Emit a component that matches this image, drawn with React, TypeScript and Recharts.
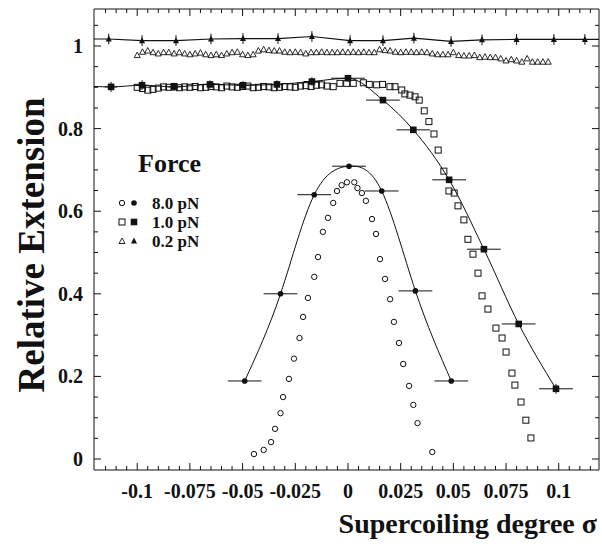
import { ComposedChart, XAxis, YAxis, Scatter, Line, ErrorBar } from "recharts";

const FONT = '"Liberation Serif", "Times New Roman", serif';
const INK = "#111";

const X_DOMAIN: [number, number] = [-0.1205, 0.1191];
const Y_DOMAIN: [number, number] = [-0.0266, 1.0896];

// tick values (minor every 0.005 / 0.05, labelled ones are the majors)
const X_MAJOR = [-0.1, -0.075, -0.05, -0.025, 0, 0.025, 0.05, 0.075, 0.1];
const Y_MAJOR = [0, 0.2, 0.4, 0.6, 0.8, 1];
const xTicks: number[] = [];
for (let i = -23; i <= 23; i++) xTicks.push(i / 200);
const yTicks: number[] = [];
for (let j = 0; j <= 21; j++) yTicks.push(j / 20);

// 8.0 pN
const circOpen: [number, number][] = [
  [-0.0446, 0.012], [-0.04, 0.022], [-0.0365, 0.041], [-0.0346, 0.073], [-0.032, 0.111],
  [-0.0308, 0.15], [-0.028, 0.194], [-0.0256, 0.243], [-0.023, 0.293], [-0.0213, 0.344],
  [-0.019, 0.39], [-0.016, 0.441], [-0.0142, 0.489], [-0.0119, 0.55], [-0.0095, 0.584],
  [-0.007, 0.62], [-0.0052, 0.649], [-0.003, 0.663], [-0.0005, 0.67], [0.003, 0.67],
  [0.0045, 0.656], [0.0066, 0.644], [0.0085, 0.625], [0.0114, 0.581], [0.0133, 0.545],
  [0.0152, 0.484], [0.0176, 0.436], [0.02, 0.387], [0.0218, 0.332], [0.0242, 0.281],
  [0.0262, 0.23], [0.029, 0.177], [0.031, 0.131], [0.033, 0.087], [0.04, 0.017],
];
const circFilled: [number, number][] = [
  [-0.049, 0.189], [-0.032, 0.4], [-0.016, 0.64], [0.0005, 0.709], [0.016, 0.649], [0.032, 0.407], [0.049, 0.189],
];

// 1.0 pN
const sqOpen: [number, number][] = [
  [-0.1, 0.9], [-0.0975, 0.897], [-0.095, 0.893], [-0.0925, 0.895], [-0.09, 0.898], [-0.0875, 0.901],
  [-0.085, 0.9], [-0.0825, 0.902], [-0.08, 0.899], [-0.0775, 0.901], [-0.075, 0.9], [-0.0725, 0.902],
  [-0.07, 0.899], [-0.0675, 0.9], [-0.065, 0.902], [-0.0625, 0.901], [-0.06, 0.899], [-0.0575, 0.903],
  [-0.055, 0.901], [-0.0525, 0.9], [-0.05, 0.902], [-0.0475, 0.903], [-0.045, 0.899], [-0.0425, 0.9],
  [-0.04, 0.902], [-0.0375, 0.901], [-0.035, 0.899], [-0.0325, 0.9], [-0.03, 0.902], [-0.0275, 0.901],
  [-0.025, 0.9], [-0.0225, 0.903], [-0.02, 0.904], [-0.0175, 0.902], [-0.015, 0.905], [-0.0125, 0.906],
  [-0.01, 0.903], [-0.007, 0.9015], [-0.0038, 0.9096], [-0.0006, 0.9096], [0.0025, 0.9096], [0.0073, 0.911],
  [0.0101, 0.907], [0.0136, 0.906], [0.0164, 0.907], [0.0199, 0.9015], [0.0223, 0.9015], [0.0255, 0.8935],
  [0.027, 0.884], [0.0294, 0.881], [0.0318, 0.877], [0.0338, 0.869], [0.0362, 0.843], [0.0384, 0.817],
  [0.0408, 0.787], [0.0428, 0.748], [0.0455, 0.697], [0.0479, 0.649], [0.0504, 0.644], [0.0522, 0.613],
  [0.055, 0.579], [0.0569, 0.532], [0.0593, 0.496], [0.0617, 0.45], [0.0636, 0.395], [0.0664, 0.363],
  [0.0702, 0.317], [0.0731, 0.293], [0.075, 0.259], [0.0778, 0.208], [0.0792, 0.179], [0.0821, 0.138],
  [0.0844, 0.094], [0.0868, 0.051],
];
// x, y, x-error, y-error
const sqFilled: [number, number, number, number][] = [
  [-0.1124, 0.901, 0.003, 0.012], [-0.0977, 0.905, 0.003, 0.012], [-0.0825, 0.901, 0.003, 0.01],
  [-0.0655, 0.907, 0.003, 0.01], [-0.0498, 0.905, 0.003, 0.01], [-0.0337, 0.907, 0.003, 0.01],
  [-0.0171, 0.914, 0.004, 0.01], [0, 0.922, 0.008, 0.008], [0.0166, 0.869, 0.008, 0.006],
  [0.031, 0.797, 0.008, 0.006], [0.048, 0.676, 0.008, 0.006], [0.0645, 0.508, 0.008, 0.006],
  [0.081, 0.327, 0.008, 0.006], [0.0987, 0.17, 0.008, 0.012],
];
const sqCurveStart: [number, number][] = [[-0.1205, 0.902]];

// 0.2 pN
const triOpen: [number, number][] = [
  [-0.1, 0.978], [-0.0975, 0.986], [-0.095, 0.989], [-0.0925, 0.985], [-0.09, 0.982], [-0.0875, 0.985],
  [-0.085, 0.985], [-0.0825, 0.982], [-0.08, 0.985], [-0.0775, 0.982], [-0.075, 0.98], [-0.0725, 0.982],
  [-0.07, 0.984], [-0.0675, 0.98], [-0.065, 0.978], [-0.0625, 0.98], [-0.06, 0.978], [-0.0575, 0.982],
  [-0.055, 0.985], [-0.0525, 0.986], [-0.05, 0.98], [-0.0475, 0.978], [-0.045, 0.98], [-0.0425, 0.989],
  [-0.04, 0.992], [-0.0375, 0.99], [-0.035, 0.989], [-0.0325, 0.989], [-0.03, 0.986], [-0.0275, 0.985],
  [-0.025, 0.986], [-0.0225, 0.985], [-0.02, 0.982], [-0.0175, 0.985], [-0.015, 0.985], [-0.0125, 0.986],
  [-0.01, 0.985], [-0.0075, 0.985], [-0.005, 0.985], [-0.0025, 0.986], [0, 0.985], [0.0025, 0.986],
  [0.005, 0.985], [0.0075, 0.986], [0.01, 0.985], [0.0125, 0.985], [0.015, 0.992], [0.0175, 0.99],
  [0.02, 0.989], [0.0225, 0.986], [0.025, 0.985], [0.0275, 0.986], [0.03, 0.986], [0.0325, 0.985],
  [0.035, 0.986], [0.0375, 0.985], [0.04, 0.982], [0.0425, 0.98], [0.045, 0.98], [0.0475, 0.98],
  [0.05, 0.985], [0.0525, 0.978], [0.055, 0.977], [0.0575, 0.977], [0.06, 0.978], [0.0625, 0.973],
  [0.065, 0.974], [0.0675, 0.973], [0.07, 0.973], [0.0725, 0.97], [0.075, 0.965], [0.0775, 0.968],
  [0.08, 0.965], [0.0825, 0.962], [0.085, 0.97], [0.0875, 0.962], [0.09, 0.962], [0.0925, 0.962],
  [0.095, 0.962],
];
const triFilled: [number, number][] = [
  [-0.1135, 1.017], [-0.0977, 1.013], [-0.0816, 1.013], [-0.065, 1.017], [-0.0498, 1.018],
  [-0.0332, 1.018], [-0.0171, 1.023], [0.001, 1.013], [0.0166, 1.013], [0.0313, 1.019],
  [0.0489, 1.011], [0.0636, 1.015], [0.08, 1.016], [0.0977, 1.016], [0.1124, 1.016],
];
const triLineEnds: [number, number][] = [[-0.1205, 1.017], [0.1191, 1.016]];

const pts = (a: [number, number][]) => a.map(([x, y]) => ({ x, y }));
const circFilledData = circFilled.map(([x, y]) => ({ x, y, ex: 0.008 }));
const sqFilledData = sqFilled.map(([x, y, ex, ey]) => ({ x, y, ex, ey }));
const triFilledData = triFilled.map(([x, y]) => ({ x, y, ey: 0.013 }));
const sqCurve = pts([...sqCurveStart, ...sqFilled.map(([x, y]) => [x, y] as [number, number])]);
const triCurve = pts([triLineEnds[0], ...triFilled, triLineEnds[1]]);

const isMajorX = (v: number) => X_MAJOR.some((m) => Math.abs(m - v) < 1e-9);
const isMajorY = (v: number) => Y_MAJOR.some((m) => Math.abs(m - v) < 1e-9);

const BottomTick = (p: any) => {
  const major = isMajorX(p.payload.value);
  return (
    <g>
      <line x1={p.x} x2={p.x} y1={p.y} y2={p.y - (major ? 7 : 4)} stroke={INK} />
      {major && (
        <text x={p.x} y={p.y + 28} textAnchor="middle" fontFamily={FONT} fontWeight="bold" fontSize={20} fill={INK}>
          {String(p.payload.value)}
        </text>
      )}
    </g>
  );
};
const TopTick = (p: any) => {
  const major = isMajorX(p.payload.value);
  return <line x1={p.x} x2={p.x} y1={p.y} y2={p.y + (major ? 7 : 4)} stroke={INK} />;
};
const LeftTick = (p: any) => {
  const major = isMajorY(p.payload.value);
  return (
    <g>
      <line x1={p.x} x2={p.x + (major ? 7 : 4)} y1={p.y} y2={p.y} stroke={INK} />
      {major && (
        <text x={p.x - 11} y={p.y + 7} textAnchor="end" fontFamily={FONT} fontWeight="bold" fontSize={20} fill={INK}>
          {String(p.payload.value)}
        </text>
      )}
    </g>
  );
};
const RightTick = (p: any) => {
  const major = isMajorY(p.payload.value);
  return <line x1={p.x} x2={p.x - (major ? 7 : 4)} y1={p.y} y2={p.y} stroke={INK} />;
};

const OpenCircle = (p: any) => <circle cx={p.cx} cy={p.cy} r={2.7} fill="none" stroke={INK} strokeWidth={1} />;
const FilledCircle = (p: any) => <circle cx={p.cx} cy={p.cy} r={2.8} fill={INK} />;
const OpenSquare = (p: any) => <rect x={p.cx - 3} y={p.cy - 3} width={6} height={6} fill="none" stroke={INK} strokeWidth={1} />;
const FilledSquare = (p: any) => <rect x={p.cx - 3.3} y={p.cy - 3.3} width={6.6} height={6.6} fill={INK} />;
const OpenTri = (p: any) => (
  <path d={`M${p.cx},${p.cy - 3} L${p.cx + 3},${p.cy + 2.5} L${p.cx - 3},${p.cy + 2.5} Z`} fill="none" stroke={INK} strokeWidth={0.9} />
);
const FilledTri = (p: any) => (
  <path d={`M${p.cx},${p.cy - 3.5} L${p.cx + 3},${p.cy + 2.5} L${p.cx - 3},${p.cy + 2.5} Z`} fill={INK} />
);

const legendRows = [
  { label: "8.0 pN", open: "circle", y: 203 },
  { label: "1.0 pN", open: "square", y: 222 },
  { label: "0.2 pN", open: "tri", y: 241 },
];

const LegendSymbol = ({ kind, cx, cy, filled }: { kind: string; cx: number; cy: number; filled: boolean }) => {
  const p = { cx, cy };
  if (kind === "circle") return filled ? <FilledCircle {...p} /> : <OpenCircle {...p} />;
  if (kind === "square") return filled ? <FilledSquare {...p} /> : <OpenSquare {...p} />;
  return filled ? <FilledTri {...p} /> : <OpenTri {...p} />;
};

export default function App() {
  return (
    <div style={{ position: "absolute", left: 0, top: 0, width: 602, height: 549, background: "#fff" }}>
      <ComposedChart width={602} height={549} margin={{ top: 0, right: 0, bottom: 0, left: 0 }}>
        <XAxis xAxisId="b" type="number" dataKey="x" domain={X_DOMAIN} allowDataOverflow ticks={xTicks}
          interval={0} tickSize={0} tickMargin={0} height={79} axisLine={{ stroke: INK }} tick={BottomTick} />
        <XAxis xAxisId="t" orientation="top" type="number" dataKey="x" domain={X_DOMAIN} allowDataOverflow ticks={xTicks}
          interval={0} tickSize={0} tickMargin={0} height={9} axisLine={{ stroke: INK }} tick={TopTick} />
        <YAxis yAxisId="l" type="number" domain={Y_DOMAIN} allowDataOverflow ticks={yTicks} interval={0}
          tickSize={0} tickMargin={0} width={94} axisLine={{ stroke: INK }} tick={LeftTick} />
        <YAxis yAxisId="r" orientation="right" type="number" domain={Y_DOMAIN} allowDataOverflow ticks={yTicks} interval={0}
          tickSize={0} tickMargin={0} width={3} axisLine={{ stroke: INK }} tick={RightTick} />

        <Line xAxisId="b" yAxisId="l" data={triCurve} dataKey="y" type="linear" stroke={INK} strokeWidth={1.2} dot={false} isAnimationActive={false} />
        <Line xAxisId="b" yAxisId="l" data={sqCurve} dataKey="y" type="monotone" stroke={INK} strokeWidth={1} dot={false} isAnimationActive={false} />
        <Line xAxisId="b" yAxisId="l" data={circFilledData} dataKey="y" type="natural" stroke={INK} strokeWidth={1} dot={false} isAnimationActive={false} />

        <Scatter xAxisId="b" yAxisId="l" data={pts(triOpen)} dataKey="y" shape={OpenTri} isAnimationActive={false} />
        <Scatter xAxisId="b" yAxisId="l" data={pts(sqOpen)} dataKey="y" shape={OpenSquare} isAnimationActive={false} />
        <Scatter xAxisId="b" yAxisId="l" data={pts(circOpen)} dataKey="y" shape={OpenCircle} isAnimationActive={false} />

        <Scatter xAxisId="b" yAxisId="l" data={triFilledData} dataKey="y" shape={FilledTri} isAnimationActive={false}>
          <ErrorBar dataKey="ey" direction="y" width={0} stroke={INK} strokeWidth={1} />
        </Scatter>
        <Scatter xAxisId="b" yAxisId="l" data={sqFilledData} dataKey="y" shape={FilledSquare} isAnimationActive={false}>
          <ErrorBar dataKey="ex" direction="x" width={0} stroke={INK} strokeWidth={1} />
          <ErrorBar dataKey="ey" direction="y" width={0} stroke={INK} strokeWidth={1} />
        </Scatter>
        <Scatter xAxisId="b" yAxisId="l" data={circFilledData} dataKey="y" shape={FilledCircle} isAnimationActive={false}>
          <ErrorBar dataKey="ex" direction="x" width={0} stroke={INK} strokeWidth={1} />
        </Scatter>
      </ComposedChart>

      <svg width={602} height={549} style={{ position: "absolute", left: 0, top: 0, pointerEvents: "none" }}>
        <text transform="translate(44,245) rotate(-90)" textAnchor="middle" fontFamily={FONT} fontWeight="bold" fontSize={37} fill={INK}>
          Relative Extension
        </text>
        <text x={597} y={533} textAnchor="end" fontFamily={FONT} fontWeight="bold" fontSize={28} fill={INK}>
          Supercoiling degree σ
        </text>
        <text x={138} y={172} fontFamily={FONT} fontWeight="bold" fontSize={26} fill={INK}>Force</text>
        {legendRows.map((r) => (
          <g key={r.label}>
            <LegendSymbol kind={r.open} cx={122} cy={r.y} filled={false} />
            <LegendSymbol kind={r.open} cx={134} cy={r.y} filled={true} />
            <text x={152} y={r.y + 6} fontFamily={FONT} fontWeight="bold" fontSize={17} fill={INK}>{r.label}</text>
          </g>
        ))}
      </svg>
    </div>
  );
}
